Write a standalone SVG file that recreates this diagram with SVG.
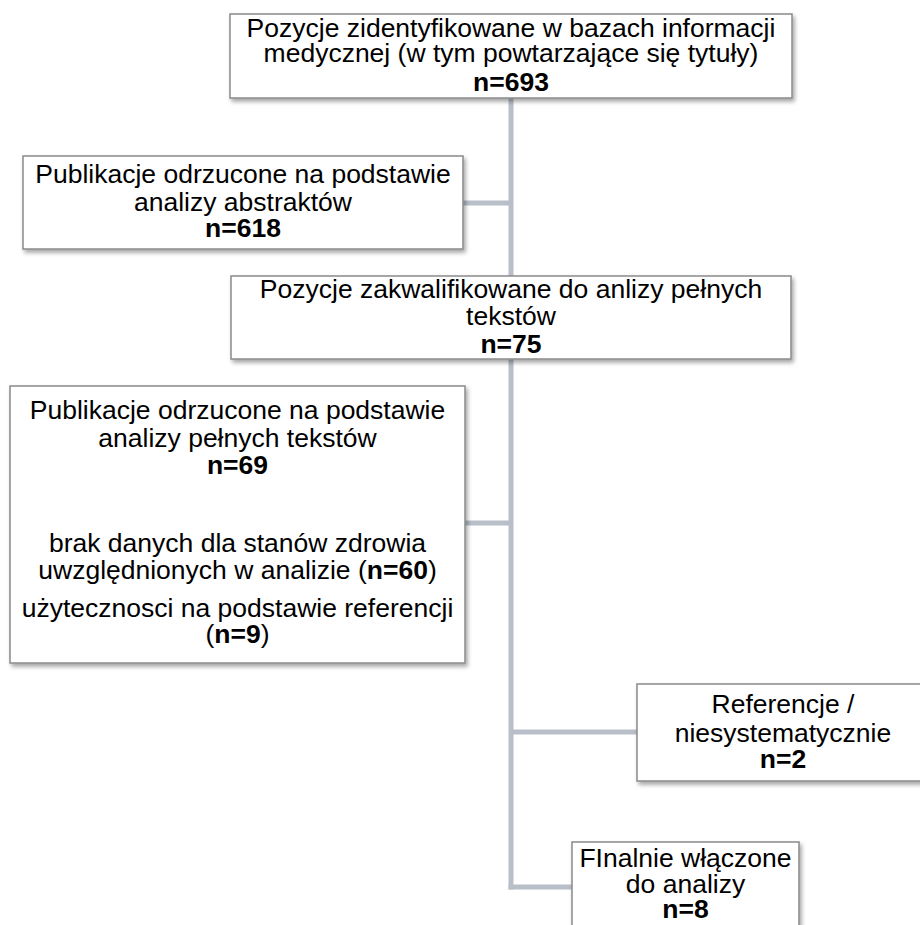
<svg xmlns="http://www.w3.org/2000/svg" width="920" height="925" viewBox="0 0 920 925">
<defs>
<filter id="sh" x="-5%" y="-10%" width="115%" height="130%">
<feDropShadow dx="2" dy="3" stdDeviation="2" flood-color="#000" flood-opacity="0.35"/>
</filter>
<style>
.box{fill:#fff;stroke:#8a8a8a;stroke-width:1.5;filter:url(#sh)}
.t{font-family:"Liberation Sans",Arial,sans-serif;font-size:26.5px;fill:#000;text-anchor:middle}
.b{font-weight:bold}
.c{stroke:#b8bfc9;stroke-width:5;fill:none}
</style>
</defs>
<rect width="920" height="925" fill="#fff"/>
<g id="connectors">
<line class="c" x1="511" y1="98" x2="511" y2="889.5"/>
<line class="c" x1="463" y1="203" x2="511" y2="203"/>
<line class="c" x1="465" y1="523" x2="511" y2="523"/>
<line class="c" x1="511" y1="732" x2="637" y2="732"/>
<line class="c" x1="508.5" y1="887" x2="572" y2="887"/>
</g>
<g id="n1">
<rect class="box" x="230" y="14" width="562" height="84"/>
<text class="t" x="511" y="37">Pozycje zidentyfikowane w bazach informacji</text>
<text class="t" x="511" y="62">medycznej (w tym powtarzające się tytuły)</text>
<text class="t b" x="511" y="91">n=693</text>
</g>
<g id="n2">
<rect class="box" x="23" y="156" width="440" height="93"/>
<text class="t" x="243" y="183">Publikacje odrzucone na podstawie</text>
<text class="t" x="243" y="211">analizy abstraktów</text>
<text class="t b" x="243" y="237">n=618</text>
</g>
<g id="n3">
<rect class="box" x="231" y="276" width="560" height="83"/>
<text class="t" x="511" y="298">Pozycje zakwalifikowane do anlizy pełnych</text>
<text class="t" x="511" y="325">tekstów</text>
<text class="t b" x="511" y="353">n=75</text>
</g>
<g id="n4">
<rect class="box" x="10" y="386" width="455" height="277"/>
<text class="t" x="237.5" y="419">Publikacje odrzucone na podstawie</text>
<text class="t" x="237.5" y="447">analizy pełnych tekstów</text>
<text class="t b" x="237.5" y="474">n=69</text>
<text class="t" x="237.5" y="552">brak danych dla stanów zdrowia</text>
<text class="t" x="237.5" y="579">uwzględnionych w analizie (<tspan class="b">n=60</tspan>)</text>
<text class="t" x="237.5" y="617">użytecznosci na podstawie referencji</text>
<text class="t" x="237.5" y="643">(<tspan class="b">n=9</tspan>)</text>
</g>
<g id="n5">
<rect class="box" x="637" y="684" width="292" height="97"/>
<text class="t" x="783" y="713">Referencje /</text>
<text class="t" x="783" y="742">niesystematycznie</text>
<text class="t b" x="783" y="768">n=2</text>
</g>
<g id="n6">
<rect class="box" x="572" y="842" width="227" height="100"/>
<text class="t" x="685.5" y="867">FInalnie włączone</text>
<text class="t" x="685.5" y="893">do analizy</text>
<text class="t b" x="685.5" y="918">n=8</text>
</g>
</svg>
